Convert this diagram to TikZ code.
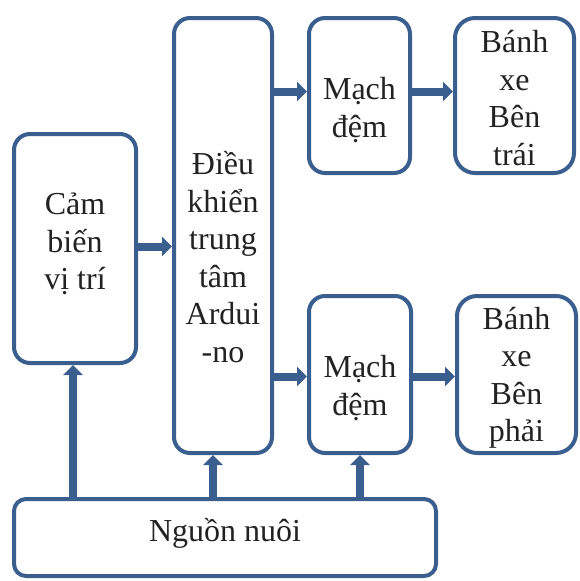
\documentclass[tikz,border=0pt]{standalone}
\usepackage{fontspec}
\setmainfont{Liberation Serif}
\usetikzlibrary{arrows.meta,calc}
\definecolor{edge}{HTML}{3A5F8E}
\definecolor{ink}{HTML}{222222}
\begin{document}
\begin{tikzpicture}[x=1pt,y=-1pt,
  box/.style={draw=edge,line width=4pt,rounded corners=16pt,inner sep=0pt,fill=white},
  txt/.style={align=center,text=ink,font=\fontsize{32}{37.5}\selectfont,inner sep=0pt},
  flow/.style={draw=edge,line width=8pt,-{Triangle[width=19pt,length=10pt]}}]
\useasboundingbox (0,0) rectangle (580,581);
% boxes
\node[box,minimum width=122pt,minimum height=229pt] (cb) at (75,248.5) {};
\node[box,minimum width=98pt,minimum height=435pt] (dk) at (223,235.5) {};
\node[box,minimum width=101pt,minimum height=155pt] (md1) at (359.5,95.5) {};
\node[box,minimum width=119pt,minimum height=155pt,rounded corners=20pt] (bx1) at (514.5,95.5) {};
\node[box,minimum width=102pt,minimum height=157pt] (md2) at (360,374.5) {};
\node[box,minimum width=119pt,minimum height=157pt,rounded corners=20pt] (bx2) at (516.5,374.5) {};
\node[box,minimum width=422pt,minimum height=77pt,rounded corners=12pt] (nn) at (225,537.5) {};
% texts
\node[txt] (cbt) at (75,244) {Cảm\\biến\\vị trí};
\node[txt] (dkt) at (223,257) {Điều\\khiển\\trung\\tâm\\Ardui\\-no};
\node[txt] (md1t) at (359.5,110) {Mạch\\đệm};
\node[txt] (bx1t) at (514.5,98) {Bánh\\xe\\Bên\\trái};
\node[txt] (md2t) at (360,388) {Mạch\\đệm};
\node[txt] (bx2t) at (516.5,378) {Bánh\\xe\\Bên\\phải};
\node[txt] (nnt) at (225,533) {Nguồn nuôi};
% horizontal arrows
\draw[flow] ([yshift=2pt]cb.east) -- ([yshift=2pt]cb.east -| dk.west);
\draw[flow] ([yshift=4pt]md1.west -| dk.east) -- ([yshift=4pt]md1.west);
\draw[flow] ([yshift=4pt]md1.east) -- ([yshift=4pt]bx1.west);
\draw[flow] ([yshift=-2pt]md2.west -| dk.east) -- ([yshift=-2pt]md2.west);
\draw[flow] ([yshift=-2pt]md2.east) -- ([yshift=-2pt]bx2.west);
% vertical arrows
\draw[flow] ([xshift=-2pt]cb.south |- nn.north) -- ([xshift=-2pt]cb.south);
\draw[flow] ([xshift=-10pt]dk.south |- nn.north) -- ([xshift=-10pt]dk.south);
\draw[flow] (md2.south |- nn.north) -- (md2.south);
\end{tikzpicture}
\end{document}
